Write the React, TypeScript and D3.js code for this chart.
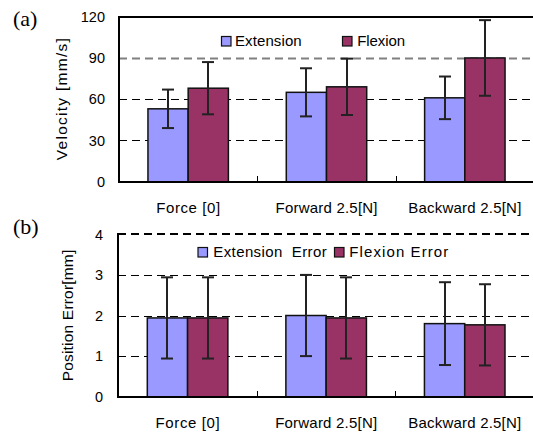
import React from "react";
import * as d3 from "d3";

const categories = ["Force [0]", "Forward 2.5[N]", "Backward 2.5[N]"];

const velocitySeries = ["Extension", "Flexion"];
const velocityExtension = [53, 65, 61];
const velocityExtensionSD = [14, 17.5, 15.5];
const velocityFlexion = [68, 69, 90];
const velocityFlexionSD = [19, 20.5, 27.5];
const velocityTicks = [0, 30, 60, 90, 120];

const errorSeries = ["Extension  Error", "Flexion Error"];
const errorExtension = [1.94, 2.0, 1.8];
const errorExtensionSD = [1.0, 1.0, 1.02];
const errorFlexion = [1.94, 1.94, 1.77];
const errorFlexionSD = [1.0, 1.0, 1.0];
const errorTicks = [0, 1, 2, 3, 4];

const COLORS = ["#9999FF", "#993366"];
const FONT = "'Liberation Sans', Arial, sans-serif";

type PanelProps = {
  tag: string;
  tagY: number;
  series: string[];
  values: number[][];
  sds: number[][];
  ticks: number[];
  yMax: number;
  x0: number;
  yTop: number;
  yBottom: number;
  tickRight: number;
  title: string;
  titleX: number;
  titleLen: number;
  legendY: number;
  legendSq: number[];
  legendText: number[];
  legendLens: number[];
  catLabelY: number;
  catLens: number[];
  topDashed: boolean;
  grayTick: number | null;
};

const half = (v: number) => Math.round(v) + 0.5;

function Panel(p: PanelProps) {
  const xRight = 534;
  const x = d3.scaleBand<string>().domain(categories).range([p.x0, xRight]).paddingInner(0).paddingOuter(0);
  const xs = d3.scaleBand<string>().domain(p.series).range([0, x.bandwidth()]).paddingInner(0).paddingOuter(0.72);
  const y = d3.scaleLinear().domain([0, p.yMax]).range([p.yBottom, p.yTop]);
  const cap = 6;
  const x0 = Math.round(p.x0);
  const y0 = Math.round(y(0));
  const yT = Math.round(y(p.yMax));
  return (
    <g>
      <text x={13} y={p.tagY} fontFamily="'Liberation Serif', 'Times New Roman', serif" fontSize={22} fill="#000">
        {p.tag}
      </text>
      {/* gridlines */}
      {p.ticks.filter((t) => t > 0 && t < p.yMax).map((t) => (
        <line key={"g" + t} x1={x0} x2={533} y1={half(y(t))} y2={half(y(t))}
          stroke={p.grayTick === t ? "#808080" : "#000"} strokeWidth={p.grayTick === t ? 2 : 1}
          strokeDasharray="8,5" />
      ))}
      {/* top border */}
      <line x1={x0} x2={533} y1={yT} y2={yT} stroke="#000" strokeWidth={2}
        strokeDasharray={p.topDashed ? "8,5" : undefined} />
      {/* bars */}
      {categories.map((c, ci) =>
        p.series.map((s, si) => {
          const v = p.values[si][ci];
          const bx = (x(c) as number) + (xs(s) as number);
          return (
            <rect key={c + s} x={bx} y={y(v)} width={xs.bandwidth()} height={y0 - y(v)}
              fill={COLORS[si]} stroke="#111" strokeWidth={1.5} />
          );
        })
      )}
      {/* error bars */}
      {categories.map((c, ci) =>
        p.series.map((s, si) => {
          const v = p.values[si][ci];
          const e = p.sds[si][ci];
          const cx = Math.round((x(c) as number) + (xs(s) as number) + xs.bandwidth() / 2);
          return (
            <g key={"e" + c + s} stroke="#222" strokeWidth={2}>
              <line x1={cx} x2={cx} y1={y(v + e)} y2={y(v - e)} />
              <line x1={cx - cap} x2={cx + cap} y1={y(v + e)} y2={y(v + e)} />
              <line x1={cx - cap} x2={cx + cap} y1={y(v - e)} y2={y(v - e)} />
            </g>
          );
        })
      )}
      {/* axes */}
      <line x1={x0} x2={x0} y1={yT - 1} y2={y0 + 1} stroke="#000" strokeWidth={2} />
      <line x1={x0} x2={533} y1={y0} y2={y0} stroke="#000" strokeWidth={2} />
      {categories.slice(1).map((c) => (
        <line key={"t" + c} x1={half(x(c) as number)} x2={half(x(c) as number)} y1={y0} y2={y0 - 6} stroke="#000" strokeWidth={1} />
      ))}
      {/* y tick labels */}
      {p.ticks.map((t) => (
        <text key={"yl" + t} x={p.tickRight} y={y(t)} dy="0.36em" textAnchor="end" fontFamily={FONT} fontSize={14.5} fill="#000">
          {t}
        </text>
      ))}
      {/* y title */}
      <text transform={`translate(${p.titleX},${(p.yTop + p.yBottom) / 2}) rotate(-90)`} textAnchor="middle"
        fontFamily={FONT} fontSize={15.5} fill="#000" textLength={p.titleLen} lengthAdjust="spacing">
        {p.title}
      </text>
      {/* category labels */}
      {categories.map((c, ci) => (
        <text key={"cl" + c} x={(x(c) as number) + x.bandwidth() / 2} y={p.catLabelY} textAnchor="middle"
          fontFamily={FONT} fontSize={15} fill="#000" textLength={p.catLens[ci]} lengthAdjust="spacing">
          {c}
        </text>
      ))}
      {/* legend */}
      {p.series.map((s, si) => (
        <g key={"lg" + s}>
          <rect x={p.legendSq[si] + 0.5} y={p.legendY - 10 + 0.5} width={9.5} height={9.5} fill={COLORS[si]} stroke="#111" strokeWidth={1.2} />
          <text x={p.legendText[si]} y={p.legendY} fontFamily={FONT} fontSize={15} fill="#000"
            textLength={p.legendLens[si]} lengthAdjust="spacing" style={{ whiteSpace: "pre" }}>
            {s}
          </text>
        </g>
      ))}
    </g>
  );
}

export default function App() {
  return (
    <svg width={533} height={432} style={{ position: "absolute", left: 0, top: 0, background: "#fff" }}>
      <rect x={0} y={0} width={533} height={432} fill="#fff" />
      <Panel
        tag="(a)" tagY={26}
        series={velocitySeries}
        values={[velocityExtension, velocityFlexion]}
        sds={[velocityExtensionSD, velocityFlexionSD]}
        ticks={velocityTicks} yMax={120}
        x0={119} yTop={16.7} yBottom={181.7} tickRight={105}
        title="Velocity [mm/s]" titleX={67} titleLen={122}
        legendY={46} legendSq={[221, 342]} legendText={[235, 357.3]} legendLens={[66.7, 47.7]}
        catLabelY={212.7} catLens={[64, 102, 113]}
        topDashed={false} grayTick={90}
      />
      <Panel
        tag="(b)" tagY={234}
        series={errorSeries}
        values={[errorExtension, errorFlexion]}
        sds={[errorExtensionSD, errorFlexionSD]}
        ticks={errorTicks} yMax={4}
        x0={118.3} yTop={234.3} yBottom={396.7} tickRight={103}
        title="Position Error[mm]" titleX={73} titleLen={131.6}
        legendY={257} legendSq={[197.5, 334]} legendText={[213.3, 349.3]} legendLens={[113.4, 99]}
        catLabelY={427.5} catLens={[64, 102, 113]}
        topDashed={true} grayTick={null}
      />
    </svg>
  );
}
